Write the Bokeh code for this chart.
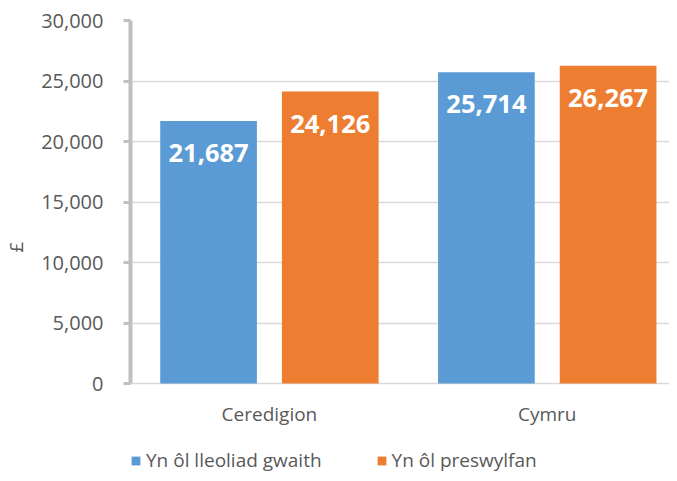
from bokeh.plotting import figure
from bokeh.models import (ColumnDataSource, Range1d, FixedTicker, NumeralTickFormatter,
                          Legend, LegendItem)
from bokeh.transform import dodge
from bokeh.core.properties import value
from bokeh.embed import file_html
from bokeh.resources import INLINE

categories = ["Ceredigion", "Cymru"]
series_names = ["Yn ôl lleoliad gwaith", "Yn ôl preswylfan"]
work_values = [21687, 25714]
home_values = [24126, 26267]
y_ticks = [0, 5000, 10000, 15000, 20000, 25000, 30000]

BLUE = "#5b9bd5"
ORANGE = "#ed7d31"
GREY_TEXT = "#595959"
FONT = "Open Sans"

# layout: value axis spans 363 px for 0..30000; 90 px below zero hold labels + legend
Y_MAX = 30000
Y_START = -Y_MAX * 90 / 363

xpos = [i + 0.5 for i in range(len(categories))]
src = ColumnDataSource(dict(
    x=xpos,
    work=work_values,
    home=home_values,
    work_lbl=[f"{v:,}" for v in work_values],
    home_lbl=[f"{v:,}" for v in home_values],
))
cat_src = ColumnDataSource(dict(x=xpos, y=[0] * len(categories), name=categories))

p = figure(width=669, height=473, output_backend="svg", toolbar_location=None,
           x_range=Range1d(0, 1.94), y_range=Range1d(Y_START, Y_MAX),
           x_axis_location=None,
           min_border_left=129, min_border_right=0, min_border_top=20,
           min_border_bottom=0)
p.outline_line_color = None
p.background_fill_color = "white"
p.border_fill_color = "white"

W = 0.348
OFF = 0.219
r1 = p.vbar(x=dodge("x", -OFF), top="work", width=W, source=src,
            fill_color=BLUE, line_color=None)
r2 = p.vbar(x=dodge("x", OFF), top="home", width=W, source=src,
            fill_color=ORANGE, line_color=None)

for col, lbl in ((-OFF, "work_lbl"), (OFF, "home_lbl")):
    ycol = "work" if lbl == "work_lbl" else "home"
    p.text(x=dodge("x", col), y=ycol, text=lbl, source=src,
           text_color="white", text_font=value(FONT), text_font_style="bold",
           text_font_size="25.5px", text_align="center", text_baseline="middle",
           y_offset=32)

# category labels under the baseline
p.text(x="x", y="y", text="name", source=cat_src, text_color=GREY_TEXT,
       text_font=value(FONT), text_font_size="19px", text_align="center",
       text_baseline="middle", y_offset=30)

# y axis
yax = p.yaxis[0]
yax.bounds = (0, Y_MAX)
yax.ticker = FixedTicker(ticks=y_ticks)
yax.formatter = NumeralTickFormatter(format="0,0")
yax.axis_line_color = "#bfbfbf"
yax.axis_line_width = 4
yax.major_tick_line_color = "#bfbfbf"
yax.major_tick_line_width = 3
yax.major_tick_out = 7
yax.major_tick_in = 0
yax.minor_tick_line_color = None
yax.major_label_standoff = 20
yax.major_label_text_font = FONT
yax.major_label_text_font_size = "20px"
yax.major_label_text_color = GREY_TEXT
yax.axis_label = "£"
yax.axis_label_text_font = FONT
yax.axis_label_text_font_size = "19px"
yax.axis_label_text_font_style = "normal"
yax.axis_label_text_color = GREY_TEXT
yax.axis_label_standoff = 9

for g in p.xgrid:
    g.grid_line_color = None
p.ygrid.ticker = FixedTicker(ticks=y_ticks)
p.ygrid.grid_line_color = "#d9d9d9"
p.ygrid.grid_line_width = 1.5

legend = Legend(items=[LegendItem(label=series_names[0], renderers=[r1]),
                       LegendItem(label=series_names[1], renderers=[r2])],
                orientation="horizontal", location=(0, 0),
                glyph_width=11, glyph_height=11, label_standoff=5, spacing=54,
                padding=0, margin=0, border_line_color=None,
                background_fill_alpha=0,
                label_text_font=FONT, label_text_font_size="19px",
                label_text_color=GREY_TEXT)
p.add_layout(legend, "center")

open("out.html", "w").write(file_html(p, INLINE))
